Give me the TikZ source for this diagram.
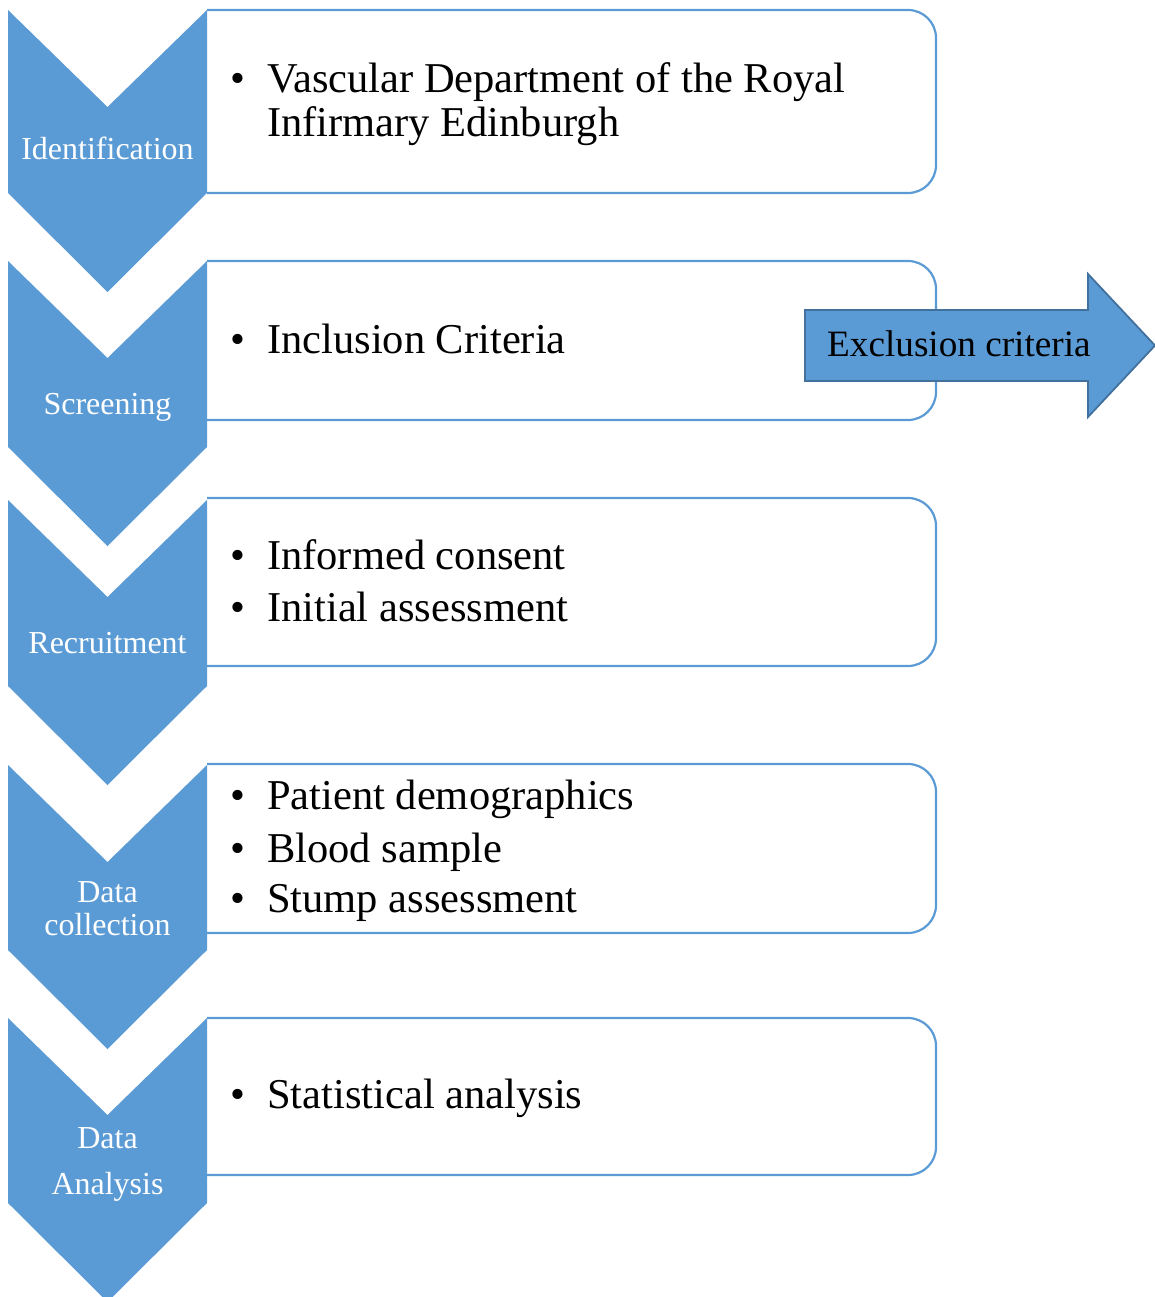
\documentclass[tikz,border=0pt]{standalone}
\usepackage{fontspec}
\setmainfont{Liberation Serif}
\definecolor{chev}{RGB}{91,155,213}
\definecolor{arrline}{RGB}{65,113,156}
\begin{document}
\begin{tikzpicture}[x=1pt,y=-1pt,
  chevron/.style={fill=chev,draw=none},
  stagebox/.style={draw=chev,line width=2.2pt,rounded corners=28pt,fill=white},
  chevlabel/.style={anchor=base,inner sep=0,text=white,font=\fontsize{32}{36}\selectfont},
  itemline/.style={anchor=base west,inner sep=0,font=\fontsize{42.5}{48}\selectfont},
  exlabel/.style={anchor=base west,inner sep=0,font=\fontsize{37.2}{42}\selectfont}]
\useasboundingbox (0,0) rectangle (1155,1297);
\newcommand{\bul}{\makebox[37pt][l]{\textbullet}}
% boxes
\foreach \t/\b in {10/193,261/420,498/666,764/933,1018/1175}{
  \path[fill=white] (207,\t) rectangle (936,\b);
  \draw[draw=chev,line width=2.2pt,rounded corners=28pt] (207,\t) -- (936,\t) -- (936,\b) -- (207,\b);
}
% chevrons
\foreach \t/\s in {10/193,261/447,500/686,765/950,1018/1203}{
  \fill[chevron] (8,\t) -- (107.5,\t+97) -- (207,\t) -- (207,\s) -- (107.5,\s+99) -- (8,\s) -- cycle;
}
% chevron labels
\node[chevlabel] (l1) at (107.5,160) {Identification};
\node[chevlabel] (l2) at (107.5,414) {Screening};
\node[chevlabel] (l3) at (107.5,653) {Recruitment};
\node[chevlabel] (l4a) at (107.5,902) {Data};
\node[chevlabel] (l4b) at (107.5,935) {collection};
\node[chevlabel] (l5a) at (107.5,1148) {Data};
\node[chevlabel] (l5b) at (107.5,1194) {Analysis};
% box texts
\node[itemline] (t1a) at (230,93) {\bul Vascular Department of the Royal};
\node[itemline] (t1b) at (267,137) {Infirmary Edinburgh};
\node[itemline] (t2) at (230,353) {\bul Inclusion Criteria};
\node[itemline] (t3a) at (230,569) {\bul Informed consent};
\node[itemline] (t3b) at (230,621) {\bul Initial assessment};
\node[itemline] (t4a) at (230,809) {\bul Patient demographics};
\node[itemline] (t4b) at (230,862) {\bul Blood sample};
\node[itemline] (t4c) at (230,912) {\bul Stump assessment};
\node[itemline] (t5) at (230,1108) {\bul Statistical analysis};
% exclusion arrow
\draw[fill=chev,draw=arrline,line width=1.8pt,line join=miter]
  (805,310) -- (1088,310) -- (1088,274) -- (1155,345.5) -- (1088,417) -- (1088,381) -- (805,381) -- cycle;
\node[exlabel] (ex) at (827,356) {Exclusion criteria};
\end{tikzpicture}
\end{document}
